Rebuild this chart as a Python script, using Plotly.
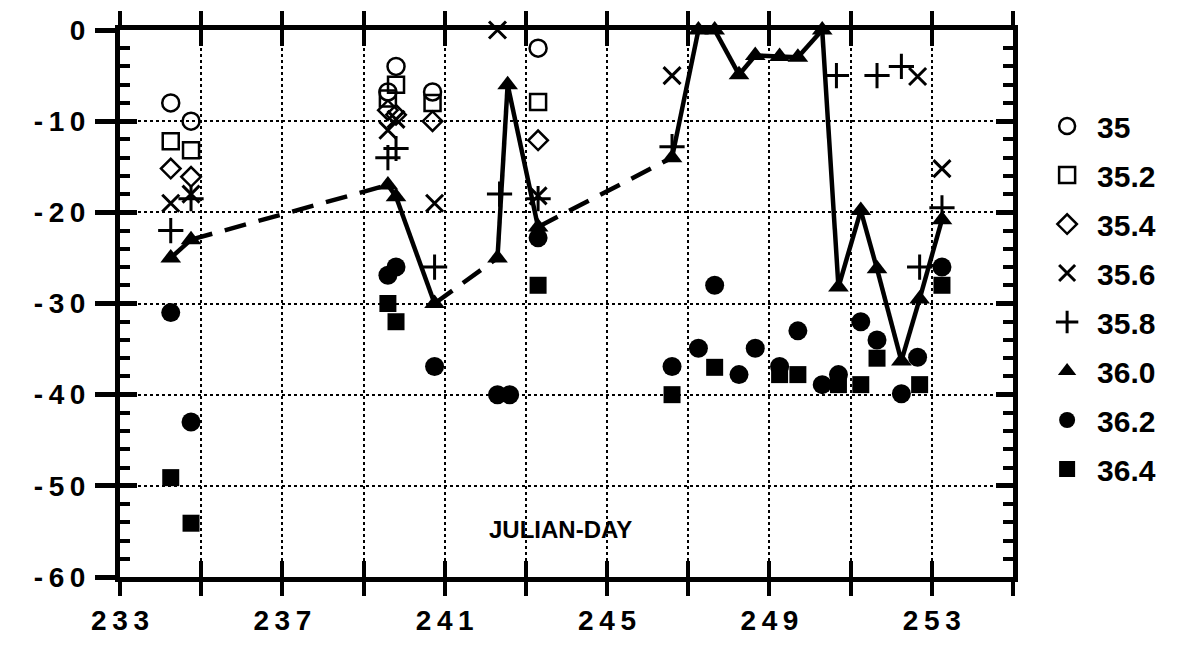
import plotly.graph_objects as go

# ---------------- data ----------------
series_names = ["35", "35.2", "35.4", "35.6", "35.8", "36.0", "36.2", "36.4"]

days_35 = [234.25, 234.75, 239.6, 239.8, 240.7, 243.3]
vals_35 = [-8, -10, -6.8, -4, -6.8, -2]

days_352 = [234.25, 234.75, 239.6, 239.8, 240.7, 243.3]
vals_352 = [-12.2, -13.2, -7.5, -6, -8, -7.9]

days_354 = [234.25, 234.75, 239.6, 239.8, 240.7, 243.3]
vals_354 = [-15.2, -16.1, -8.8, -9.3, -10, -12.1]

days_356 = [234.25, 234.75, 239.6, 239.8, 240.75, 242.3, 243.3, 246.6, 252.65, 253.25]
vals_356 = [-19, -18, -11, -9.8, -19, 0, -18.2, -5, -5.1, -15.2]

days_358 = [234.25, 234.75, 239.6, 239.8, 240.75, 242.35, 243.3, 246.6, 250.65, 251.65, 252.25, 252.7, 253.25]
vals_358 = [-22, -18.5, -14, -13, -26, -18, -18.5, -12.8, -5, -5, -4, -26, -19.5]

days_360 = [234.25, 234.75, 239.6, 239.8, 240.75, 242.3, 242.55, 243.3, 246.6, 247.25, 247.65,
            248.25, 248.65, 249.25, 249.7, 250.3, 250.7, 251.25, 251.65, 252.25, 252.7, 253.25]
vals_360 = [-25, -23, -17, -18.3, -30, -25, -6, -21.6, -14, 0, 0,
            -4.9, -2.8, -2.9, -3, 0, -28.2, -19.8, -26.2, -36.3, -29.5, -20.8]

days_362 = [234.25, 234.75, 239.6, 239.8, 240.75, 242.3, 242.6, 243.3, 246.6, 247.25, 247.65,
            248.25, 248.65, 249.25, 249.7, 250.3, 250.7, 251.25, 251.65, 252.25, 252.65, 253.25]
vals_362 = [-31, -43, -26.9, -26, -36.9, -40, -40, -22.8, -36.9, -34.9, -28,
            -37.8, -34.9, -36.9, -33, -38.9, -37.8, -32, -34, -39.9, -35.9, -26]

days_364 = [234.25, 234.75, 239.6, 239.8, 243.3, 246.6, 247.65, 249.25, 249.7, 250.7, 251.25,
            251.65, 252.7, 253.25]
vals_364 = [-49.1, -54.1, -30, -32, -28, -40, -37, -37.8, -37.8, -38.9, -38.9,
            -36, -38.9, -28]

x_tick_vals = list(range(233, 256, 2))
x_tick_labels = ["233", "", "237", "", "241", "", "245", "", "249", "", "253", ""]
y_tick_vals = [0, -10, -20, -30, -40, -50, -60]
y_tick_labels = ["0", "-10", "-20", "-30", "-40", "-50", "-60"]
axis_title = "JULIAN-DAY"

# ---------------- figure ----------------
THIN = "\u2009"


def spaced(s):
    return THIN.join(list(s))


fig = go.Figure()

# 36.0 connecting line: solid within a sampling run, dashed across long gaps
solid_x, solid_y, dash_x, dash_y = [], [], [], []
for i in range(len(days_360) - 1):
    x0, x1 = days_360[i], days_360[i + 1]
    y0, y1 = vals_360[i], vals_360[i + 1]
    if x1 - x0 > 1.0:
        dash_x += [x0, x1, None]
        dash_y += [y0, y1, None]
    else:
        solid_x += [x0, x1, None]
        solid_y += [y0, y1, None]

fig.add_trace(go.Scatter(x=dash_x, y=dash_y, mode="lines",
                         line=dict(color="black", width=4.5, dash="22px,13px"),
                         showlegend=False, hoverinfo="skip", cliponaxis=False))
fig.add_trace(go.Scatter(x=solid_x, y=solid_y, mode="lines",
                         line=dict(color="black", width=4.5),
                         showlegend=False, hoverinfo="skip", cliponaxis=False))

marker_specs = [
    (days_35, vals_35, "circle-open", 17, 2.5),
    (days_352, vals_352, "square-open", 16, 2.5),
    (days_354, vals_354, "diamond-open", 15, 2.5),
    (days_356, vals_356, "x-thin-open", 17, 3),
    (days_358, vals_358, "cross-thin-open", 18, 3),
    (days_360, vals_360, "triangle-up", 18, 0),
    (days_362, vals_362, "circle", 19, 0),
    (days_364, vals_364, "square", 17, 0),
]

for name, (dx, dy, sym, size, lw) in zip(series_names, marker_specs):
    fig.add_trace(go.Scatter(
        x=dx, y=dy, mode="markers", name=name, legendgroup=name,
        marker=dict(symbol=sym, size=size, color="black",
                    line=dict(color="black", width=lw)),
        cliponaxis=False,
    ))

# dummy trace to activate the overlay axes (inner ticks)
fig.add_trace(go.Scatter(x=[None], y=[None], xaxis="x2", yaxis="y2",
                         showlegend=False, hoverinfo="skip"))

tick_font = dict(family="Liberation Sans, Arial, sans-serif", size=28,
                 color="black", weight="bold")

fig.update_layout(
    width=1189, height=654,
    margin=dict(l=112, r=184, t=22, b=85, autoexpand=False),
    paper_bgcolor="white", plot_bgcolor="white",
    font=dict(family="Liberation Sans, Arial, sans-serif", color="black"),
    xaxis=dict(
        range=[233, 255], tickmode="array", tickvals=x_tick_vals,
        ticktext=[spaced(t) for t in x_tick_labels],
        ticks="outside", ticklen=14, tickwidth=4, tickcolor="black",
        showline=True, linewidth=5, linecolor="black", mirror="allticks",
        showgrid=True, gridcolor="black", gridwidth=2, griddash="dot",
        zeroline=False, tickfont=tick_font, ticklabelstandoff=0,
        automargin=False,
    ),
    yaxis=dict(
        range=[-60, 0], tickmode="array", tickvals=y_tick_vals,
        ticktext=[spaced(t) for t in y_tick_labels],
        ticks="outside", ticklen=20, tickwidth=5, tickcolor="black",
        showline=True, linewidth=5, linecolor="black", mirror=True,
        showgrid=True, gridcolor="black", gridwidth=2, griddash="dot",
        zeroline=False, tickfont=tick_font, ticklabelstandoff=4,
        automargin=False,
    ),
    xaxis2=dict(
        range=[233, 255], overlaying="x", anchor="y2", side="bottom",
        tickmode="array", tickvals=x_tick_vals, showticklabels=False,
        ticks="inside", ticklen=16, tickwidth=4, tickcolor="black",
        mirror="allticks", showline=False, showgrid=False, zeroline=False,
        automargin=False,
    ),
    yaxis2=dict(
        range=[-60, 0], overlaying="y", anchor="x2", side="left",
        tickmode="array", tickvals=y_tick_vals, showticklabels=False,
        ticks="inside", ticklen=17, tickwidth=5, tickcolor="black",
        minor=dict(dtick=2, tick0=0, ticks="inside", ticklen=10, tickwidth=4,
                   tickcolor="black", showgrid=False),
        mirror="allticks", showline=False, showgrid=False, zeroline=False,
        automargin=False,
    ),
    legend=dict(
        x=1.027, y=0.872, xanchor="left", yanchor="top",
        font=dict(family="Liberation Sans, Arial, sans-serif", size=30,
                  color="black", weight="bold"),
        tracegroupgap=7, itemwidth=50, bgcolor="rgba(0,0,0,0)",
    ),
    annotations=[dict(
        x=243.85, y=-54.8, xref="x", yref="y", text=axis_title,
        showarrow=False, font=dict(family="Liberation Sans, Arial, sans-serif",
                                   size=24, color="black", weight="bold"),
    )],
)

fig.write_html("out.html")
